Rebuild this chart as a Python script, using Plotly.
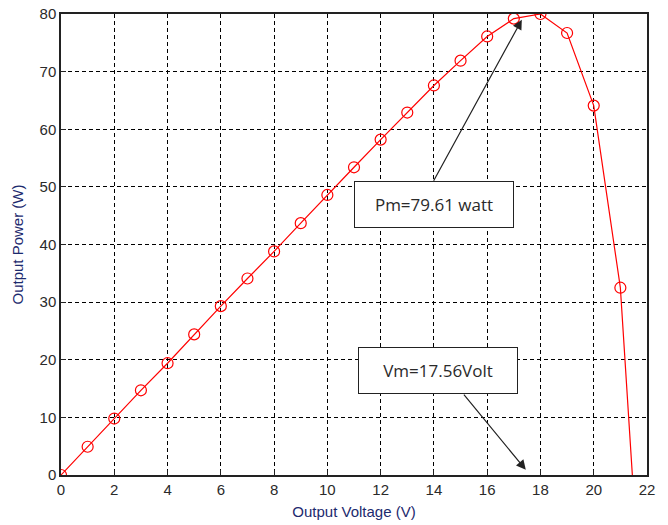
import plotly.graph_objects as go

voltage = [0, 1, 2, 3, 4, 5, 6, 7, 8, 9, 10, 11, 12, 13, 14, 15, 16, 17, 18, 19, 20, 21]
power = [0, 4.9, 9.8, 14.7, 19.4, 24.4, 29.3, 34.1, 38.8, 43.7, 48.6, 53.4, 58.2, 62.9,
         67.6, 71.9, 76.1, 79.2, 80.0, 76.7, 64.1, 32.5]
# open-circuit end of the curve
voc = 21.45
x_ticks = [0, 2, 4, 6, 8, 10, 12, 14, 16, 18, 20, 22]
y_ticks = [0, 10, 20, 30, 40, 50, 60, 70, 80]
pm_label = "Pm=79.61 watt"
vm_label = "Vm=17.56Volt"

fig = go.Figure()
fig.add_trace(go.Scatter(
    x=voltage + [voc], y=power + [0], mode="lines",
    line=dict(color="#ff0000", width=1.2), showlegend=False, hoverinfo="skip",
))
fig.add_trace(go.Scatter(
    x=voltage, y=power, mode="markers",
    marker=dict(symbol="circle-open", size=11, color="#ff0000", line=dict(width=1.2)),
    showlegend=False,
))

axis_common = dict(
    showgrid=True, gridcolor="black", griddash="4px,3px", gridwidth=1,
    showline=True, linecolor="#222222", linewidth=1.5, mirror=True,
    ticks="inside", ticklen=5, tickcolor="#222222",
    zeroline=False, automargin=False,
    tickfont=dict(family="Liberation Sans, Arial", size=15, color="#2a2a2a"),
)
fig.update_xaxes(range=[0, 22], tickvals=x_ticks, **axis_common,
                 title=dict(text="Output Voltage (V)", standoff=10,
                            font=dict(family="Liberation Sans, Arial", size=15, color="#1c2a6e")))
fig.update_yaxes(range=[0, 80], tickvals=y_ticks, **axis_common,
                 title=dict(text="Output Power (W)", standoff=12,
                            font=dict(family="Liberation Sans, Arial", size=15, color="#1c2a6e")))

# arrows
fig.add_annotation(x=17.3, y=79.0, ax=13.96, ay=50.8, axref="x", ayref="y",
                   xref="x", yref="y", text="", showarrow=True,
                   arrowhead=2, arrowsize=1.6, arrowwidth=1.2, arrowcolor="#222222")
fig.add_annotation(x=17.45, y=0.9, ax=15.08, ay=14.2, axref="x", ayref="y",
                   xref="x", yref="y", text="", showarrow=True,
                   arrowhead=2, arrowsize=1.6, arrowwidth=1.2, arrowcolor="#222222")
# text boxes
fig.add_annotation(x=14.0, y=46.9, xref="x", yref="y", text=pm_label, showarrow=False,
                   width=156, height=43, bgcolor="white", bordercolor="#222222", borderwidth=1,
                   font=dict(family="Open Sans", size=17, color="#2a2a2a"))
fig.add_annotation(x=14.15, y=18.2, xref="x", yref="y", text=vm_label, showarrow=False,
                   width=156, height=43, bgcolor="white", bordercolor="#222222", borderwidth=1,
                   font=dict(family="Open Sans", size=17, color="#2a2a2a"))

fig.update_layout(
    width=668, height=525,
    margin=dict(l=61, r=21, t=14, b=50),
    plot_bgcolor="white", paper_bgcolor="white",
)
fig.write_html("out.html")
